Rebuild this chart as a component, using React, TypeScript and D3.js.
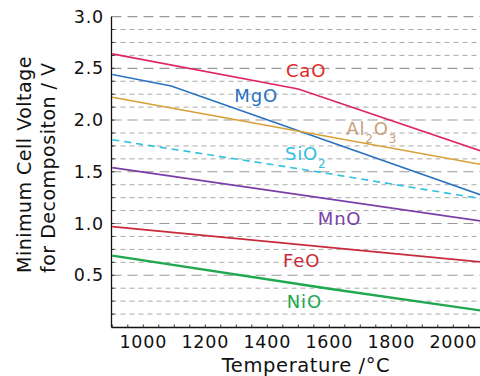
import * as d3 from 'd3';

const W = 480;
const H = 376;

// [temperature °C, minimum cell voltage V]
const caO: [number, number][] = [[900, 2.64], [1500, 2.3], [2100, 1.69]];
const mgO: [number, number][] = [[900, 2.44], [1090, 2.33], [2100, 1.265]];
const al2O3: [number, number][] = [[900, 2.22], [2100, 1.565]];
const siO2: [number, number][] = [[900, 1.81], [1500, 1.53], [2100, 1.235]];
const mnO: [number, number][] = [[900, 1.54], [2100, 1.02]];
const feO: [number, number][] = [[900, 0.97], [2100, 0.625]];
const niO: [number, number][] = [[900, 0.69], [1600, 0.37], [2100, 0.155]];

const xTicks = [1000, 1200, 1400, 1600, 1800, 2000];
const yTicks = [0.5, 1.0, 1.5, 2.0, 2.5, 3.0];

const series = [
  { name: 'CaO', data: caO, color: '#e0245e', width: 1.6, dash: '' },
  { name: 'MgO', data: mgO, color: '#2a72c0', width: 1.6, dash: '' },
  { name: 'Al2O3', data: al2O3, color: '#d6a035', width: 1.6, dash: '' },
  { name: 'SiO2', data: siO2, color: '#2ec0e0', width: 1.6, dash: '7,5' },
  { name: 'MnO', data: mnO, color: '#7a3ea8', width: 1.6, dash: '' },
  { name: 'FeO', data: feO, color: '#c82a3a', width: 1.6, dash: '' },
  { name: 'NiO', data: niO, color: '#20a850', width: 2.4, dash: '' },
];

const FONT = '"DejaVu Sans", sans-serif';

export default function App() {
  const x = d3.scaleLinear().domain([900, 2100]).range([112.3, 484.3]);
  const y = d3.scaleLinear().domain([0, 3]).range([327, 16.6]);
  const left = 111.5;
  const bottom = 327.5;

  const line = d3
    .line<[number, number]>()
    .x((d) => x(d[0]))
    .y((d) => y(d[1]));

  const minorY = d3.range(1, 24).map((i) => i * 0.125).filter((v) => v % 0.5 !== 0);
  const minorX = d3.range(900, 2101, 50);

  return (
    <svg width={W} height={H} style={{ position: 'absolute', left: 0, top: 0 }} fontFamily={FONT}>
      <rect width={W} height={H} fill="#fff" />
      {minorY.map((v) => (
        <line key={'m' + v} x1={left} x2={W} y1={y(v)} y2={y(v)} stroke="#aaa" strokeWidth={1} strokeDasharray="5,4" />
      ))}
      {yTicks.map((v) => (
        <line key={'g' + v} x1={left} x2={W} y1={y(v)} y2={y(v)} stroke="#999" strokeWidth={1.1} strokeDasharray="10,6" />
      ))}
      {series.map((s) => (
        <path
          key={s.name}
          d={line(s.data)!}
          fill="none"
          stroke={s.color}
          strokeWidth={s.width}
          strokeDasharray={s.dash || undefined}
        />
      ))}
      {/* axes */}
      <line x1={left} x2={left} y1={y(3)} y2={bottom} stroke="#111" strokeWidth={1.3} />
      <line x1={left} x2={W} y1={bottom} y2={bottom} stroke="#111" strokeWidth={1.3} />
      {minorX.map((t) => (
        <line key={'xt' + t} x1={x(t)} x2={x(t)} y1={bottom} y2={bottom - 3} stroke="#333" />
      ))}
      {d3.range(1, 24).map((i) => (
        <line key={'yt' + i} x1={left} x2={left + 3} y1={y(i * 0.125)} y2={y(i * 0.125)} stroke="#333" />
      ))}
      {xTicks.map((t) => (
        <text key={'xl' + t} x={x(t)} y={348} textAnchor="middle" fontSize={17.5} letterSpacing={0.8} fill="#111">
          {t}
        </text>
      ))}
      {yTicks.map((v) => (
        <text key={'yl' + v} x={104} y={y(v) + 6} textAnchor="end" fontSize={17.5} letterSpacing={0.8} fill="#111">
          {v.toFixed(1)}
        </text>
      ))}
      <text x={306} y={372} textAnchor="middle" fontSize={19.5} letterSpacing={0.6} fill="#111">
        Temperature /°C
      </text>
      <g transform="translate(31,273) rotate(-90)" fontSize={19} letterSpacing={0.5} fill="#111">
        <text x={0} y={0}>Minimum Cell Voltage</text>
        <text x={0} y={24}>for Decompositon / V</text>
      </g>
      {/* series labels */}
      <g fontSize={18} letterSpacing={0.8}>
        <text x={x(1525)} y={y(2.42)} textAnchor="middle" fill="#e02a2a">CaO</text>
        <text x={x(1364)} y={y(2.176)} textAnchor="middle" fill="#2a72c0">MgO</text>
        <text x={x(1655)} y={y(1.86)} fill="#c9a07a">
          Al<tspan dy={8} fontSize={12}>2</tspan>
          <tspan dy={-8}>O</tspan>
          <tspan dy={8} fontSize={12}>3</tspan>
        </text>
        <text x={x(1457)} y={y(1.615)} fill="#2ec0e0">
          SiO<tspan dy={8} fontSize={12}>2</tspan>
        </text>
        <text x={x(1563)} y={y(0.986)} fill="#7a3ea8">MnO</text>
        <text x={x(1451)} y={y(0.58)} fill="#c82a3a">FeO</text>
        <text x={x(1463)} y={y(0.184)} fill="#20a850">NiO</text>
      </g>
    </svg>
  );
}
